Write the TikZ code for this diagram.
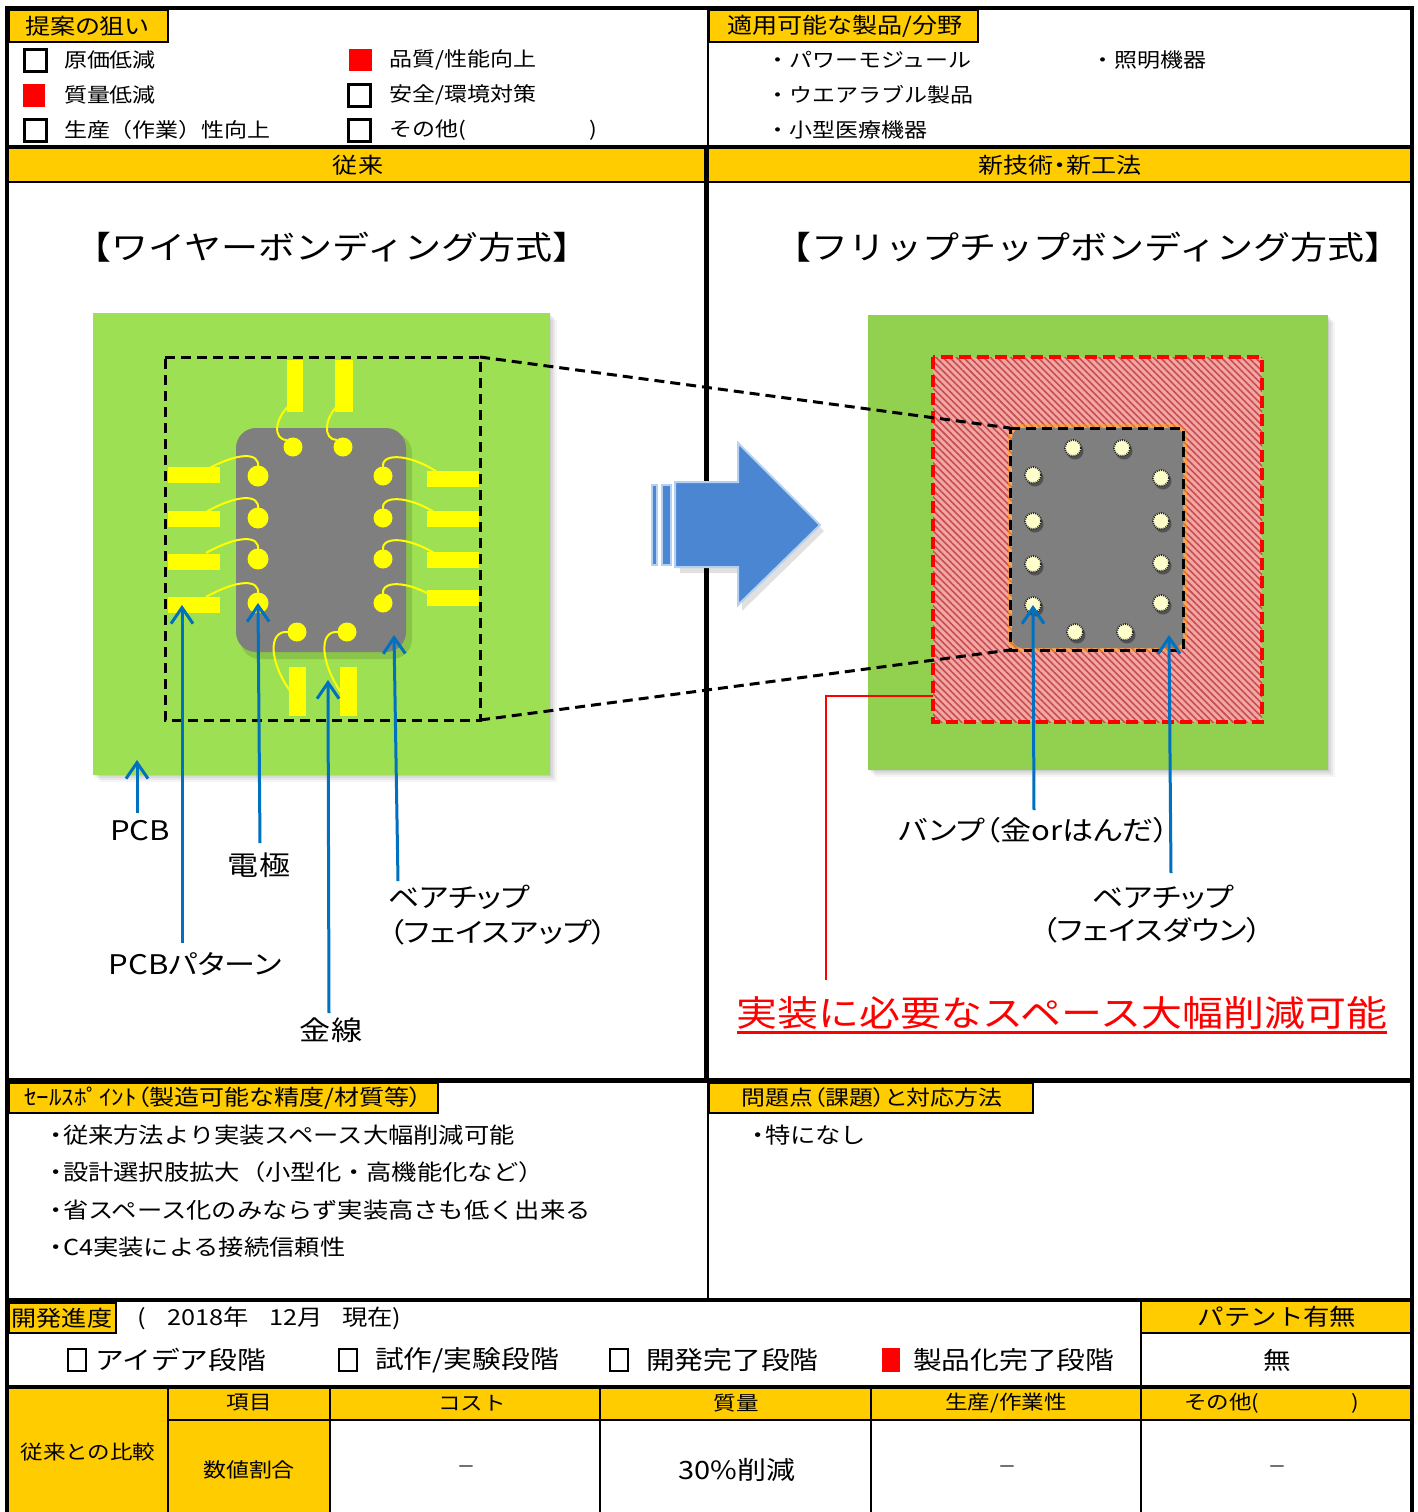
\documentclass[tikz,border=0pt]{standalone}
\usepackage{fontspec}
\setmainfont{Noto Sans CJK JP}[FakeStretch=1.15]
\usetikzlibrary{arrows.meta,patterns.meta}

\definecolor{hdr}{HTML}{FFCC00}
\definecolor{pcbA}{HTML}{9EE053}
\definecolor{pcbB}{HTML}{92D050}
\definecolor{pad}{HTML}{FFFF00}
\definecolor{die}{HTML}{7F7F7F}
\definecolor{lead}{HTML}{0070C0}
\definecolor{flow}{HTML}{4A86D2}
\definecolor{flowedge}{HTML}{B4D0F2}
\definecolor{bump}{HTML}{FFFFCC}
\definecolor{keepout}{HTML}{F2A6A6}
\definecolor{hatch}{HTML}{C84E4E}
\definecolor{redline}{HTML}{FF0000}

\newcommand{\fsz}[1]{\fontsize{#1}{#1}\selectfont}
\newcommand{\prop}{\addfontfeatures{RawFeature=+palt}}
\newcommand{\bul}{\makebox[10pt][l]{・}}

\begin{document}
\begin{tikzpicture}[x=0.5pt,y=-0.5pt,
  heavy/.style={line width=2pt},
  hair/.style={line width=1pt},
  tagbox/.style={fill=hdr,draw=black,line width=0.9pt},
  tx/.style={inner sep=0pt,outer sep=0pt},
  tagtxt/.style={tx,font=\fsz{10.9pt}\prop},
  item/.style={tx,anchor=west,font=\fsz{10pt}},
  ttl/.style={tx,font=\fsz{16.1pt}},
  lbl/.style={tx,font=\fsz{13.5pt}\prop},
  spt/.style={tx,anchor=west,font=\fsz{11pt}},
  dev/.style={tx,anchor=west,font=\fsz{12.5pt}},
  cell/.style={tx,font=\fsz{9.8pt}},
  nilval/.style={tx,font=\fsz{8pt}},
  hollow/.style={draw=black,line width=1.5pt},
  filled/.style={fill=redline},
  wire/.style={draw=pad,line width=1pt},
  ptr/.style={draw=lead,line width=1.5pt,-{Straight Barb[length=8pt,width=11pt]}},
  win/.style={draw=black,line width=1.5pt,dash pattern=on 5pt off 3pt},
  bumpdot/.style={fill=bump,draw=black!85,line width=0.9pt,dash pattern=on 0.5pt off 0.6pt}
]
\useasboundingbox (0,0) rectangle (1418,1512);
\fill[white] (0,0) rectangle (1418,1512);

% ---------- yellow header bands ----------
\fill[hdr] (7,148) rectangle (1412,182);
\fill[hdr] (1141,1300) rectangle (1412,1333);
\fill[hdr] (7,1387) rectangle (1412,1420);
\fill[hdr] (7,1420) rectangle (330,1512);

% ---------- section tags ----------
\draw[tagbox] (9,10) rectangle (168,42);
\node[tagtxt] (aimTag) at (87,26) {提案の狙い};
\draw[tagbox] (709,10) rectangle (978,42);
\node[tagtxt] (useTag) at (845,26) {適用可能な製品/分野};
\draw[tagbox] (9,1083) rectangle (438,1113);
\node[tagtxt] (spTag) at (223,1098) {ｾｰﾙｽﾎﾟｲﾝﾄ（製造可能な精度/材質等）};
\draw[tagbox] (709,1083) rectangle (1033,1113);
\node[tagtxt,font=\fsz{10.4pt}\prop] (issueTag) at (872,1098) {問題点（課題）と対応方法};
\draw[tagbox] (9,1303) rectangle (116,1333);
\node[tagtxt] (devTag) at (62,1318) {開発進度};

% ---------- aims ----------
\draw[hollow] (24,49) rectangle (46,71);
\node[item] (aim1) at (64,60) {原価低減};
\fill[filled] (23,84) rectangle (45,107);
\node[item] (aim2) at (64,95) {質量低減};
\draw[hollow] (24,119) rectangle (46,141);
\node[item] (aim3) at (64,130) {生産（作業）性向上};
\fill[filled] (349,49) rectangle (372,71);
\node[item] (aim4) at (389,60) {品質/性能向上};
\draw[hollow] (348,84) rectangle (370,106);
\node[item] (aim5) at (389,95) {安全/環境対策};
\draw[hollow] (348,119) rectangle (370,141);
\node[item] (aim6) at (389,130) {その他(\hspace{62pt})};

% ---------- applicable fields ----------
\node[item] (use1) at (766,60) {・パワーモジュール};
\node[item] (use2) at (766,95) {・ウエアラブル製品};
\node[item] (use3) at (766,130) {・小型医療機器};
\node[item] (use4) at (1091,60) {・照明機器};

% ---------- band titles ----------
\node[tagtxt] (oldHdr) at (358,165) {従来};
\node[tagtxt] (newHdr) at (1060,165) {新技術・新工法};
\node[ttl] (oldTitle) at (332,247) {【ワイヤーボンディング方式】};
\node[ttl] (newTitle) at (1088,247) {【フリップチップボンディング方式】};

% ---------- wire bonding board ----------
\foreach \o/\op in {7/0.04,5/0.05,3/0.06,1/0.07}
  \fill[black,opacity=\op] (93+\o,313+\o) rectangle (550+\o,775+\o);
\fill[pcbA] (93,313) rectangle (550,775);
\fill[black,opacity=0.12,rounded corners=10pt] (240,433) rectangle (412,659);
\fill[die,rounded corners=10pt] (236,428) rectangle (406,652);

% pattern pads
\fill[pad] (287,360) rectangle (303,412);
\fill[pad] (335,360) rectangle (353,412);
\fill[pad] (289,667) rectangle (306,716);
\fill[pad] (340,667) rectangle (357,716);
\foreach \y in {475,519,562,605} \fill[pad] (168,\y-8) rectangle (220,\y+8);
\foreach \y in {479,519,560,598} \fill[pad] (427,\y-8) rectangle (479,\y+8);

% gold wires
\foreach \y in {476,518,559,603}
  \draw[wire] (258,\y-9) .. controls (260,\y-24) and (238,\y-24) .. (206,\y-6);
\foreach \y in {476,518,559,603}
  \draw[wire] (383,\y-9) .. controls (381,\y-24) and (412,\y-22) .. (440,\y-2);
\draw[wire] (287,440) .. controls (273,440) and (273,418) .. (293,402);
\draw[wire] (337,440) .. controls (323,440) and (323,418) .. (341,402);
\draw[wire] (288,632) .. controls (268,630) and (268,662) .. (293,695);
\draw[wire] (338,632) .. controls (318,630) and (320,664) .. (344,697);

% electrodes
\foreach \x/\y in {293/447,343/447,297/632,347/632,383/476,383/518,383/559,383/603}
  \fill[pad] (\x,\y) circle[radius=9.5];
\foreach \y in {476,518,559,603}
  \fill[pad] (258,\y) circle[radius=10.5];

% window around the die
\coordinate (winTL) at (165,357);
\coordinate (winTR) at (480,357);
\coordinate (winBR) at (480,720);
\coordinate (winBL) at (165,720);
\draw[win] (winTL) -- (winTR) -- (winBR) -- (winBL) -- cycle;

% ---------- flip chip board ----------
\foreach \o/\op in {7/0.04,5/0.05,3/0.06,1/0.07}
  \fill[black,opacity=\op] (868+\o,315+\o) rectangle (1328+\o,770+\o);
\fill[pcbB] (868,315) rectangle (1328,770);
\fill[keepout] (933,357) rectangle (1262,722);
\fill[pattern={Lines[angle=-45,distance=2.4pt,line width=0.8pt]},pattern color=hatch]
  (933,357) rectangle (1262,722);
\fill[orange!70!yellow,opacity=0.45,rounded corners=6pt] (1008,424) rectangle (1187,652);
\fill[die,rounded corners=5pt] (1012,428) rectangle (1183,648);
\foreach \x/\y in {1073/448,1122/448,1033/475,1033/521,1033/564,1033/605,
                   1161/478,1161/521,1161/563,1161/603,1075/632,1125/632}{
  \fill[black,opacity=0.35] (\x+2,\y+3) circle[radius=8.5];
  \draw[bumpdot] (\x,\y) circle[radius=8];
}
\coordinate (fcTL) at (1010,428);
\coordinate (fcTR) at (1183,428);
\coordinate (fcBR) at (1183,650);
\coordinate (fcBL) at (1010,650);
\draw[win] (fcTL) -- (fcTR) -- (fcBR) -- (fcBL) -- cycle;
\draw[draw=redline,line width=1.6pt,dash pattern=on 6pt off 3pt] (933,357) rectangle (1262,722);

% projection lines between the two windows
\draw[win] (winTR) -- (fcTL);
\draw[win] (winBR) -- (fcBL);

% ---------- grid lines ----------
\draw[heavy] (5,8) -- (1414,8);
\draw[heavy] (7,6) -- (7,1512);
\draw[heavy] (1412,6) -- (1412,1512);
\draw[heavy] (7,147) -- (1412,147);
\draw[hair] (7,182) -- (1412,182);
\draw[hair] (708,8) -- (708,147);
\draw[line width=2.5pt] (706,147) -- (706,1080);
\draw[line width=2.5pt] (7,1080) -- (1412,1080);
\draw[hair] (708,1080) -- (708,1300);
\draw[heavy] (7,1300) -- (1412,1300);
\draw[hair] (1141,1300) -- (1141,1387);
\draw[hair] (1141,1333) -- (1412,1333);
\draw[heavy] (7,1387) -- (1412,1387);
\draw[hair] (168,1420) -- (1412,1420);
\foreach \x in {168,330,600,871,1141} \draw[hair] (\x,1387) -- (\x,1512);

% ---------- transition arrow ----------
\fill[black,opacity=0.12] (680,488) -- (742,488) -- (742,450) -- (824,531) -- (742,611) -- (742,573) -- (680,573) -- cycle;
\filldraw[fill=flow,draw=flowedge,line width=0.6pt] (652,485) rectangle (657,565);
\filldraw[fill=flow,draw=flowedge,line width=0.6pt] (662,485) rectangle (671,565);
\filldraw[fill=flow,draw=flowedge,line width=1pt]
  (675,482) -- (738,482) -- (738,443) -- (820,525) -- (738,605) -- (738,567) -- (675,567) -- cycle;

% ---------- leaders, wire bonding ----------
\coordinate (pcbTail) at (137,813);  \coordinate (pcbHead) at (137,760);
\coordinate (patTail) at (182,943);  \coordinate (patHead) at (182,605);
\coordinate (eleTail) at (260,843);  \coordinate (eleHead) at (258,603);
\coordinate (auTail) at (329,1013);  \coordinate (auHead) at (328,680);
\coordinate (upTail) at (398,881);   \coordinate (upHead) at (394,635);
\draw[ptr] (pcbTail) -- (pcbHead);
\draw[ptr] (patTail) -- (patHead);
\draw[ptr] (eleTail) -- (eleHead);
\draw[ptr] (auTail) -- (auHead);
\draw[ptr] (upTail) -- (upHead);
\node[lbl] (pcbLbl) at (140,831) {PCB};
\node[lbl] (eleLbl) at (259,865) {電極};
\node[lbl] (patLbl) at (195,964) {PCBパターン};
\node[lbl] (upLbl1) at (459,897) {ベアチップ};
\node[lbl] (upLbl2) at (498,932) {（フェイスアップ）};
\node[lbl] (auLbl) at (331,1030) {金線};

% ---------- leaders, flip chip ----------
\coordinate (bumpTail) at (1034,810); \coordinate (bumpHead) at (1033,605);
\coordinate (dnTail) at (1171,873);   \coordinate (dnHead) at (1169,635);
\draw[ptr] (bumpTail) -- (bumpHead);
\draw[ptr] (dnTail) -- (dnHead);
\node[lbl] (bumpLbl) at (1034,830) {バンプ（金orはんだ）};
\node[lbl] (dnLbl1) at (1163,897) {ベアチップ};
\node[lbl] (dnLbl2) at (1152,930) {（フェイスダウン）};

% keep-out area callout
\coordinate (koEdge) at (933,696);
\coordinate (koBend) at (826,696);
\coordinate (koEnd) at (826,980);
\draw[draw=redline,line width=1.3pt] (koEdge) -- (koBend) -- (koEnd);
\node[tx,text=redline,font=\fsz{17.8pt}] (koNote) at (1062,1013) {実装に必要なスペース大幅削減可能};
\draw[draw=redline,line width=1.6pt] ([yshift=-1.5pt]koNote.south west) -- ([yshift=-1.5pt]koNote.south east);

% ---------- selling points / issues ----------
\node[spt] (sp1) at (43,1135) {\bul 従来方法より実装スペース大幅削減可能};
\node[spt] (sp2) at (43,1172) {\bul 設計選択肢拡大（小型化・高機能化など）};
\node[spt] (sp3) at (43,1210) {\bul 省スペース化のみならず実装高さも低く出来る};
\node[spt] (sp4) at (43,1247) {\bul C4実装による接続信頼性};
\node[spt] (is1) at (745,1135) {\bul 特になし};

% ---------- development status ----------
\node[tx,anchor=west,font=\fsz{11pt}] (asOf) at (137,1318) {(\hspace{11pt}2018年\hspace{10pt}12月\hspace{10pt}現在)};
\draw[line width=1.3pt] (68,1349) rectangle (86,1371);
\node[dev] (st1) at (95,1360) {アイデア段階};
\draw[line width=1.3pt] (339,1349) rectangle (357,1371);
\node[dev] (st2) at (375,1360) {試作/実験段階};
\draw[line width=1.3pt] (610,1349) rectangle (628,1371);
\node[dev] (st3) at (646,1360) {開発完了段階};
\fill[filled] (882,1348) rectangle (900,1372);
\node[dev] (st4) at (913,1360) {製品化完了段階};
\node[tx,font=\fsz{11.5pt}] (patHdr) at (1277,1317) {パテント有無};
\node[tx,font=\fsz{12pt}] (patVal) at (1277,1360) {無};

% ---------- comparison table ----------
\node[cell] (cmpHdr) at (88,1452) {従来との比較};
\node[cell] (colItem) at (249,1403) {項目};
\node[cell] (colCost) at (472,1403) {コスト};
\node[cell] (colMass) at (736,1403) {質量};
\node[cell] (colProd) at (1006,1403) {生産/作業性};
\node[cell,anchor=west] (colOther) at (1184,1403) {その他(\hspace{46pt})};
\node[cell,font=\fsz{10pt}] (rowRatio) at (249,1470) {数値割合};
\node[nilval] (vCost) at (466,1469) {－};
\node[cell,font=\fsz{12.6pt}] (vMass) at (737,1470) {30\%削減};
\node[nilval] (vProd) at (1007,1469) {－};
\node[nilval] (vOther) at (1277,1469) {－};
\end{tikzpicture}
\end{document}
